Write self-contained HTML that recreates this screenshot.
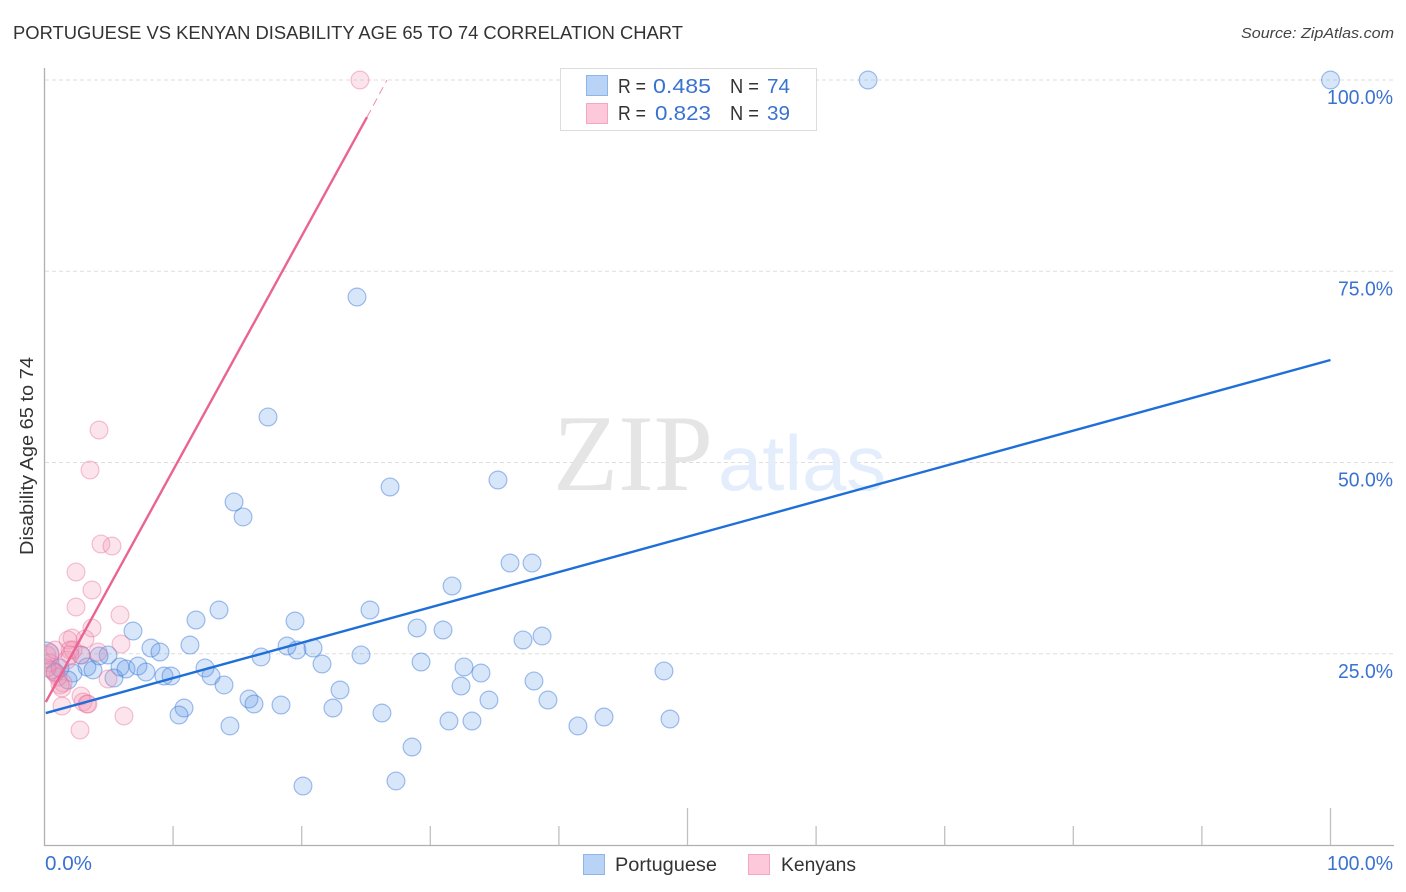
<!DOCTYPE html>
<html lang="en">
<head>
<meta charset="utf-8">
<title>Portuguese vs Kenyan Disability Age 65 to 74 Correlation Chart</title>
<style>
html,body{margin:0;padding:0;background:#fff;}
svg{display:block;font-family:"Liberation Sans",sans-serif;}
</style>
</head>
<body>
<svg id="chart" width="1406" height="892" viewBox="0 0 1406 892" xmlns="http://www.w3.org/2000/svg">
  <defs><clipPath id="plot-clip"><rect x="45" y="60" width="1349" height="785"/></clipPath></defs>
  <text x="13" y="39" font-size="18.5" fill="#333" textLength="670" lengthAdjust="spacingAndGlyphs">PORTUGUESE VS KENYAN DISABILITY AGE 65 TO 74 CORRELATION CHART</text>
  <text x="1394" y="38" font-size="15" font-style="italic" fill="#444" text-anchor="end" textLength="153" lengthAdjust="spacingAndGlyphs">Source: ZipAtlas.com</text>
  <g id="grid"></g>
  <g>
    <text x="553" y="490" font-family="'Liberation Serif',serif" font-size="109" fill="#e5e5e5" textLength="160" lengthAdjust="spacingAndGlyphs">ZIP</text>
    <text x="718" y="490" font-size="78" fill="#e4edfb" textLength="168" lengthAdjust="spacingAndGlyphs">atlas</text>
  </g>
  <g id="axes"></g>
  <g id="points" clip-path="url(#plot-clip)"></g>
  <g id="trends"></g>
  <text x="33" y="456" font-size="18" fill="#333" text-anchor="middle" transform="rotate(-90 33 456)" textLength="198" lengthAdjust="spacingAndGlyphs">Disability Age 65 to 74</text>

  <g>
    <rect x="560.5" y="68.5" width="256" height="62" fill="#fff" stroke="#dcdcdc"/>
    <rect x="586.5" y="75.5" width="21" height="20" fill="#b9d3f6" stroke="#8db5e8"/>
    <rect x="586.5" y="103.5" width="21" height="20" fill="#fdc8da" stroke="#f3a7c0"/>
    <g font-size="20" fill="#333">
      <text x="618" y="93" textLength="28" lengthAdjust="spacingAndGlyphs">R =</text>
      <text x="730" y="93" textLength="29" lengthAdjust="spacingAndGlyphs">N =</text>
      <text x="618" y="120" textLength="28" lengthAdjust="spacingAndGlyphs">R =</text>
      <text x="730" y="120" textLength="29" lengthAdjust="spacingAndGlyphs">N =</text>
    </g>
    <g font-size="20.5" fill="#3a72d0">
      <text x="653" y="93" textLength="58" lengthAdjust="spacingAndGlyphs">0.485</text>
      <text x="767" y="93" textLength="23" lengthAdjust="spacingAndGlyphs">74</text>
      <text x="655" y="120" textLength="56" lengthAdjust="spacingAndGlyphs">0.823</text>
      <text x="767" y="120" textLength="23" lengthAdjust="spacingAndGlyphs">39</text>
    </g>
  </g>

  <g>
    <rect x="583.5" y="854.5" width="21" height="20" fill="#b9d3f6" stroke="#8db5e8"/>
    <text x="615" y="871" font-size="19.5" fill="#333" textLength="102" lengthAdjust="spacingAndGlyphs">Portuguese</text>
    <rect x="748.5" y="854.5" width="21" height="20" fill="#fdc8da" stroke="#f3a7c0"/>
    <text x="781" y="871" font-size="19.5" fill="#333" textLength="75" lengthAdjust="spacingAndGlyphs">Kenyans</text>
  </g>
</svg>
<script>
const xTickValues = [0,10,20,30,40,50,60,70,80,90,100];
const yTickValues = [25,50,75,100];
const yTickLabels = ["25.0%","50.0%","75.0%","100.0%"];
const xEndLabels = ["0.0%","100.0%"];

const portugueseX = [100,64.04,24.30,17.38,26.87,35.26,14.74,15.44,36.20,37.91,31.69,25.31,13.57,11.78,19.48,6.88,28.97,30.99,37.21,38.69,11.31,8.28,8.98,18.86,19.63,20.88,4.94,4.24,2.84,24.61,16.84,21.58,29.28,48.17,32.62,33.94,32.39,38.06,5.87,6.34,7.27,7.89,9.29,9.84,12.48,12.95,13.96,5.40,3.30,3.77,2.22,1.83,22.98,15.90,16.29,18.39,22.43,26.24,10.85,10.46,34.56,39.15,43.51,48.64,41.48,31.45,33.24,14.42,28.58,27.33,20.10,0.10,0.82,1.20];
const portugueseY = [100,100,71.63,55.95,46.80,47.71,44.84,42.88,36.86,36.86,33.86,30.72,30.72,29.41,29.28,27.97,28.37,28.10,26.80,27.32,26.14,25.75,25.23,26.01,25.49,25.75,24.84,24.71,24.84,24.84,24.58,23.66,23.92,22.75,23.27,22.48,20.78,21.44,23.27,23.01,23.40,22.61,22.09,22.09,23.14,22.09,20.92,21.83,23.27,22.88,22.48,21.57,20.26,19.08,18.43,18.30,17.91,17.25,17.91,16.99,18.95,18.95,16.73,16.47,15.56,16.21,16.21,15.56,12.81,8.37,7.71,24.84,22.61,23.14];
const kenyansX = [24.53,4.24,3.54,4.39,5.25,2.45,3.69,2.45,5.87,3.69,5.95,3.15,2.14,1.83,4.16,2.84,1.98,0.43,0.43,4.94,2.84,2.99,3.30,1.36,6.18,2.76,1.36,1.44,0.82,1.05,0.58,1.75,2.22,0.19,0.19,0.82,1.21,1.98,3.38];
const kenyansY = [100,54.25,49.02,39.35,39.08,35.69,33.33,31.11,30.07,28.37,26.27,26.93,27.06,26.80,25.23,24.84,25.49,25.10,23.79,21.70,19.48,18.69,18.43,18.17,16.86,15.03,20.52,21.18,22.48,21.96,22.88,24.18,25.49,24.84,23.14,25.49,20.92,24.84,18.43];
const portugueseTrendX = [0.1,100];
const portugueseTrendY = [17.25,63.4];
const kenyansTrendX = [0.1,25.08];
const kenyansTrendY = [18.69,95.16];
const kenyansTrendDashX = [25.08,26.63];
const kenyansTrendDashY = [95.16,100];

const NS = 'http://www.w3.org/2000/svg';
const xScale = v => 44.5 + v * 12.86;
const yScale = v => 845 - v * 7.65;

function make(tag, parent, attrs, text) {
  const el = document.createElementNS(NS, tag);
  for (const k in attrs) el.setAttribute(k, attrs[k]);
  if (text !== undefined) el.textContent = text;
  parent.appendChild(el);
  return el;
}

const grid = document.getElementById('grid');
const axes = document.getElementById('axes');
const points = document.getElementById('points');
const trends = document.getElementById('trends');

yTickValues.forEach(function (v, i) {
  const line = make('line', grid, {x1:45, x2:1394, y1:yScale(v), y2:yScale(v), stroke:'#dedede', 'stroke-width':1, 'stroke-dasharray':'4 3'});
  
  
  const label = make('text', axes, {x:1393, y:yScale(v) + 24, 'font-size':20, fill:'#3a72d0', 'text-anchor':'end', textLength: yTickLabels[i].length * 11, lengthAdjust:'spacingAndGlyphs'}, yTickLabels[i]);
  
  
});

const yAxis = make('line', axes, {x1:44.5, x2:44.5, y1:68, y2:846, stroke:'#b0b0b0', 'stroke-width':1.3});


const xAxis = make('line', axes, {x1:44, x2:1394, y1:845.5, y2:845.5, stroke:'#b0b0b0', 'stroke-width':1.3});



xTickValues.forEach(function (v) {
  if (v === 0) return;
  const top = v % 50 === 0 ? 808 : 826;
  const tick = make('line', axes, {x1:xScale(v), x2:xScale(v), y1:top, y2:845, stroke:'#c0c0c0', 'stroke-width':1.3});
  
  
});

const x0Label = make('text', axes, {x:45, y:870, 'font-size':20, fill:'#3a72d0', textLength:47, lengthAdjust:'spacingAndGlyphs'}, xEndLabels[0]);


const x100Label = make('text', axes, {x:1393, y:870, 'font-size':20, fill:'#3a72d0', 'text-anchor':'end', textLength:66, lengthAdjust:'spacingAndGlyphs'}, xEndLabels[1]);



portugueseX.forEach(function (v, i) {
  const big = v < 0.5;
  const c = make('circle', points, {cx:xScale(v), cy:yScale(portugueseY[i]), r:big ? 13 : 8.9, fill:'rgba(90,150,230,0.24)', stroke:'rgba(50,115,215,0.45)', 'stroke-width':1.2});
  
  
});

kenyansX.forEach(function (v, i) {
  const c = make('circle', points, {cx:xScale(v), cy:yScale(kenyansY[i]), r:8.9, fill:'rgba(244,143,177,0.24)', stroke:'rgba(232,112,154,0.42)', 'stroke-width':1.2});
  
  
});

const blueTrend = make('line', trends, {x1:xScale(portugueseTrendX[0]), y1:yScale(portugueseTrendY[0]), x2:xScale(portugueseTrendX[1]), y2:yScale(portugueseTrendY[1]), stroke:'#1f6fd8', 'stroke-width':2.4});


const pinkTrend = make('line', trends, {x1:xScale(kenyansTrendX[0]), y1:yScale(kenyansTrendY[0]), x2:xScale(kenyansTrendX[1]), y2:yScale(kenyansTrendY[1]), stroke:'#ea6393', 'stroke-width':2.4});


const pinkDash = make('line', trends, {x1:xScale(kenyansTrendDashX[0]), y1:yScale(kenyansTrendDashY[0]), x2:xScale(kenyansTrendDashX[1]), y2:yScale(kenyansTrendDashY[1]), stroke:'#ef8fb0', 'stroke-width':1, 'stroke-dasharray':'8 5'});


</script>
</body>
</html>
